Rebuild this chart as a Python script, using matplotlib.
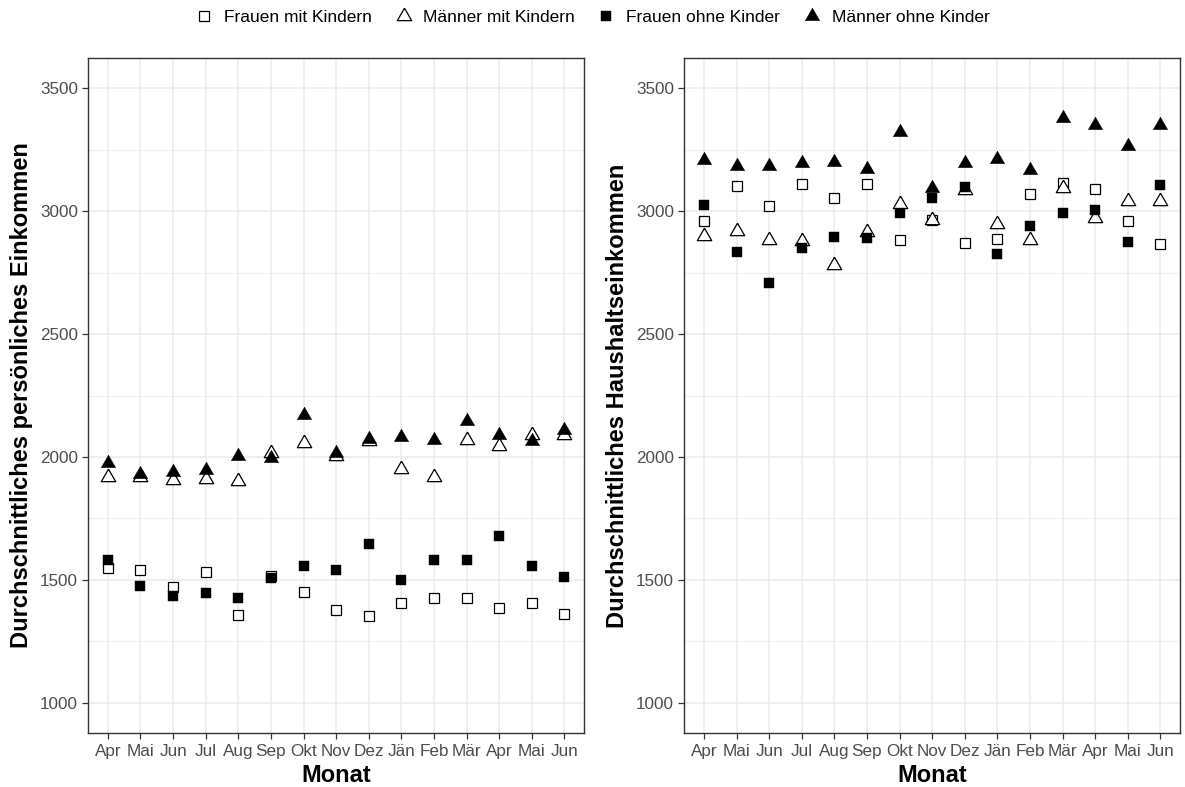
import matplotlib
matplotlib.use('Agg')
import matplotlib.pyplot as plt
import numpy as np
from matplotlib.lines import Line2D

# Monate (Apr des ersten Jahres bis Jun des Folgejahres)
months = ['Apr', 'Mai', 'Jun', 'Jul', 'Aug', 'Sep', 'Okt', 'Nov', 'Dez',
          'Jän', 'Feb', 'Mär', 'Apr', 'Mai', 'Jun']

# persönliches Einkommen
pers_frauen_mit = [1549, 1541, 1471, 1530, 1357, 1517, 1452, 1378, 1353,
                   1405, 1424, 1426, 1386, 1407, 1361]
pers_maenner_mit = [1918, 1918, 1907, 1912, 1904, 2015, 2057, 2002, 2064,
                    1949, 1918, 2070, 2043, 2091, 2091]
pers_frauen_ohne = [1582, 1476, 1432, 1448, 1424, 1506, 1558, 1540, 1645,
                    1499, 1582, 1582, 1679, 1557, 1513]
pers_maenner_ohne = [1974, 1932, 1939, 1946, 2003, 1996, 2172, 2017, 2072,
                     2080, 2069, 2145, 2091, 2066, 2111]

# Haushaltseinkommen
hh_frauen_mit = [2962, 3101, 3023, 3111, 3055, 3111, 2881, 2966, 2869,
                 2889, 3072, 3115, 3091, 2959, 2865]
hh_maenner_mit = [2901, 2918, 2884, 2877, 2782, 2915, 3031, 2965, 3085,
                  2947, 2884, 3093, 2974, 3042, 3042]
hh_frauen_ohne = [3027, 2834, 2708, 2850, 2894, 2890, 2991, 3053, 3097,
                  2824, 2939, 2992, 3004, 2874, 3106]
hh_maenner_ohne = [3208, 3184, 3184, 3195, 3202, 3172, 3324, 3096, 3198,
                   3211, 3169, 3378, 3351, 3267, 3353]

group_names = ['Frauen mit Kindern', 'Männer mit Kindern',
               'Frauen ohne Kinder', 'Männer ohne Kinder']

plt.rcParams['font.family'] = ['Liberation Sans', 'DejaVu Sans']

# Dreieck wie in R (Schwerpunkt im Mittelpunkt)
tri = [(0, 1), (0.866, -0.5), (-0.866, -0.5), (0, 1)]
styles = [
    dict(marker='s', ms=7.4, mfc='white', mec='black', mew=0.9),
    dict(marker=tri, ms=12.0, mfc='white', mec='black', mew=0.9),
    dict(marker='s', ms=7.4, mfc='black', mec='black', mew=0.3),
    dict(marker=tri, ms=12.0, mfc='black', mec='black', mew=0.3),
]

fig = plt.figure(figsize=(11.85, 7.87), dpi=100)
ax1 = fig.add_axes([0.0745, 0.0682, 0.4183, 0.8585])
ax2 = fig.add_axes([0.5775, 0.0682, 0.4183, 0.8585])

x = np.arange(len(months))
panels = [
    (ax1, [pers_frauen_mit, pers_maenner_mit, pers_frauen_ohne, pers_maenner_ohne],
     'Durchschnittliches persönliches Einkommen'),
    (ax2, [hh_frauen_mit, hh_maenner_mit, hh_frauen_ohne, hh_maenner_ohne],
     'Durchschnittliches Haushaltseinkommen'),
]

for ax, series, ylab in panels:
    for vals, st in zip(series, styles):
        ax.plot(x, vals, linestyle='none', zorder=3, **st)
    ax.set_xlim(-0.6, len(months) - 0.4)
    ax.set_ylim(875, 3625)
    ax.set_xticks(x)
    ax.set_xticklabels(months)
    ax.set_yticks([1000, 1500, 2000, 2500, 3000, 3500])
    ax.set_yticks([1250, 1750, 2250, 2750, 3250], minor=True)
    ax.grid(which='major', color='#EBEBEB', linewidth=1.1, zorder=0)
    ax.grid(which='minor', axis='y', color='#EBEBEB', linewidth=0.6, zorder=0)
    ax.set_axisbelow(True)
    for sp in ax.spines.values():
        sp.set_color('#333333')
        sp.set_linewidth(1.0)
    ax.tick_params(which='major', length=4.2, width=0.9, color='#333333',
                   labelcolor='#4D4D4D', labelsize=12.3, pad=3.2)
    ax.tick_params(which='minor', length=0)
    ax.set_xlabel('Monat', fontsize=17, fontweight='bold', labelpad=4)
    ax.set_ylabel(ylab, fontsize=17, fontweight='bold', labelpad=5)

handles = [Line2D([], [], linestyle='none', **st) for st in styles]
fig.legend(handles, group_names, loc='center', bbox_to_anchor=(0.5, 0.978),
           ncol=4, frameon=False, fontsize=12.5, handlelength=1.0,
           handletextpad=0.65, columnspacing=1.3, borderaxespad=0)

fig.savefig('out.png', dpi=100)
